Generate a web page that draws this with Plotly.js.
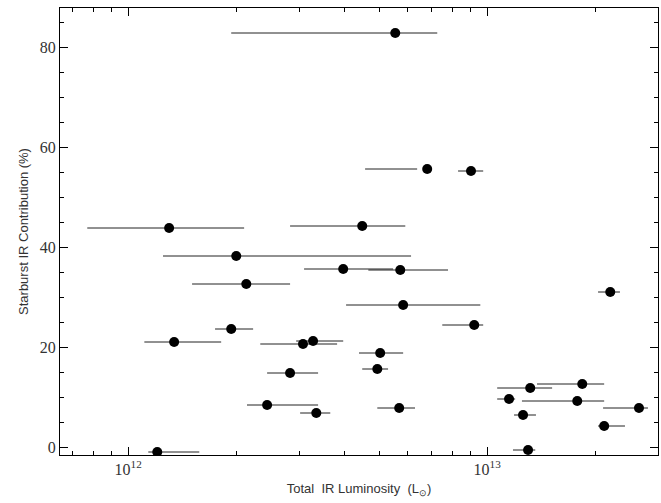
<!DOCTYPE html>
<html>
<head>
<meta charset="utf-8">
<script src="https://cdn.plot.ly/plotly-3.0.1.min.js"></script>
<style>body{margin:0}</style>
</head>
<body>
<div id="myDiv" style="width:661px;height:503px"></div>
<script>
// log10 of total IR luminosity (Lsun): value, lower end, upper end of error bar
const logL   = [12.744,12.833,12.955,12.114,12.652,12.301,12.329,12.599,12.758,12.766,12.287,12.128,12.487,12.515,12.451,12.702,12.694,12.387,12.524,12.755,12.964,13.343,13.120,13.265,13.061,13.251,13.423,13.100,13.326,13.114,12.081];
const logLlo = [12.287,12.660,12.919,11.886,12.451,12.097,12.178,12.490,12.669,12.607,12.242,12.045,12.368,12.468,12.387,12.643,12.652,12.331,12.479,12.694,12.875,13.309,13.028,13.139,13.028,13.097,13.323,13.075,13.309,13.072,12.056];
const logLhi = [12.861,12.805,12.989,12.323,12.772,12.788,12.451,12.738,12.891,12.981,12.348,12.259,12.582,12.599,12.529,12.766,12.724,12.529,12.563,12.799,12.989,13.370,13.181,13.326,13.078,13.326,13.448,13.136,13.384,13.134,12.198];
const sbFrac = [82.8,55.6,55.2,43.8,44.2,38.2,32.6,35.6,35.4,28.4,23.6,21,20.6,21.2,14.8,18.8,15.6,8.4,6.8,7.8,24.4,31,11.8,12.6,9.6,9.2,7.8,6.4,4.2,-0.6,-1];

var x = logL.map(v => Math.pow(10, v));
var plus = logLhi.map((v, i) => Math.pow(10, v) - x[i]);
var minus = logLlo.map((v, i) => x[i] - Math.pow(10, v));

var data = [{
  x: x, y: sbFrac, type: 'scatter', mode: 'markers',
  marker: {color: 'black', size: 10},
  error_x: {type: 'data', symmetric: false, array: plus, arrayminus: minus,
            color: '#222', thickness: 1, width: 0}
}];

var axisCommon = {showgrid: false, zeroline: false, showline: true, mirror: 'ticks',
  linecolor: 'black', linewidth: 1, ticks: 'inside', tickcolor: 'black', ticklen: 8,
  tickfont: {family: 'Liberation Serif', size: 16, color: '#333'}};

var layout = {
  width: 661, height: 503,
  margin: {l: 60, r: 3, t: 8, b: 48},
  plot_bgcolor: 'white', paper_bgcolor: 'white', showlegend: false,
  xaxis: Object.assign({}, axisCommon, {
    type: 'log', range: [11.81, 13.476],
    tickvals: [1e12, 1e13], ticktext: ['10<sup>12</sup>', '10<sup>13</sup>'],
    minor: {tickvals: [7e11,8e11,9e11,2e12,3e12,4e12,5e12,6e12,7e12,8e12,9e12,2e13,3e13], ticks: 'inside', ticklen: 4, tickcolor: 'black'},
    title: {text: 'Total  IR Luminosity  (L<sub>⊙</sub>)', standoff: 6,
            font: {family: 'Liberation Sans', size: 13, color: '#333'}}
  }),
  yaxis: Object.assign({}, axisCommon, {
    range: [-1.6, 87.8], tickvals: [0, 20, 40, 60, 80],
    minor: {dtick: 5, ticks: 'inside', ticklen: 4, tickcolor: 'black'},
    title: {text: 'Starburst IR Contribution (%)', standoff: 8,
            font: {family: 'Liberation Sans', size: 13, color: '#333'}}
  })
};

Plotly.newPlot('myDiv', data, layout, {displayModeBar: false});
</script>
</body>
</html>
